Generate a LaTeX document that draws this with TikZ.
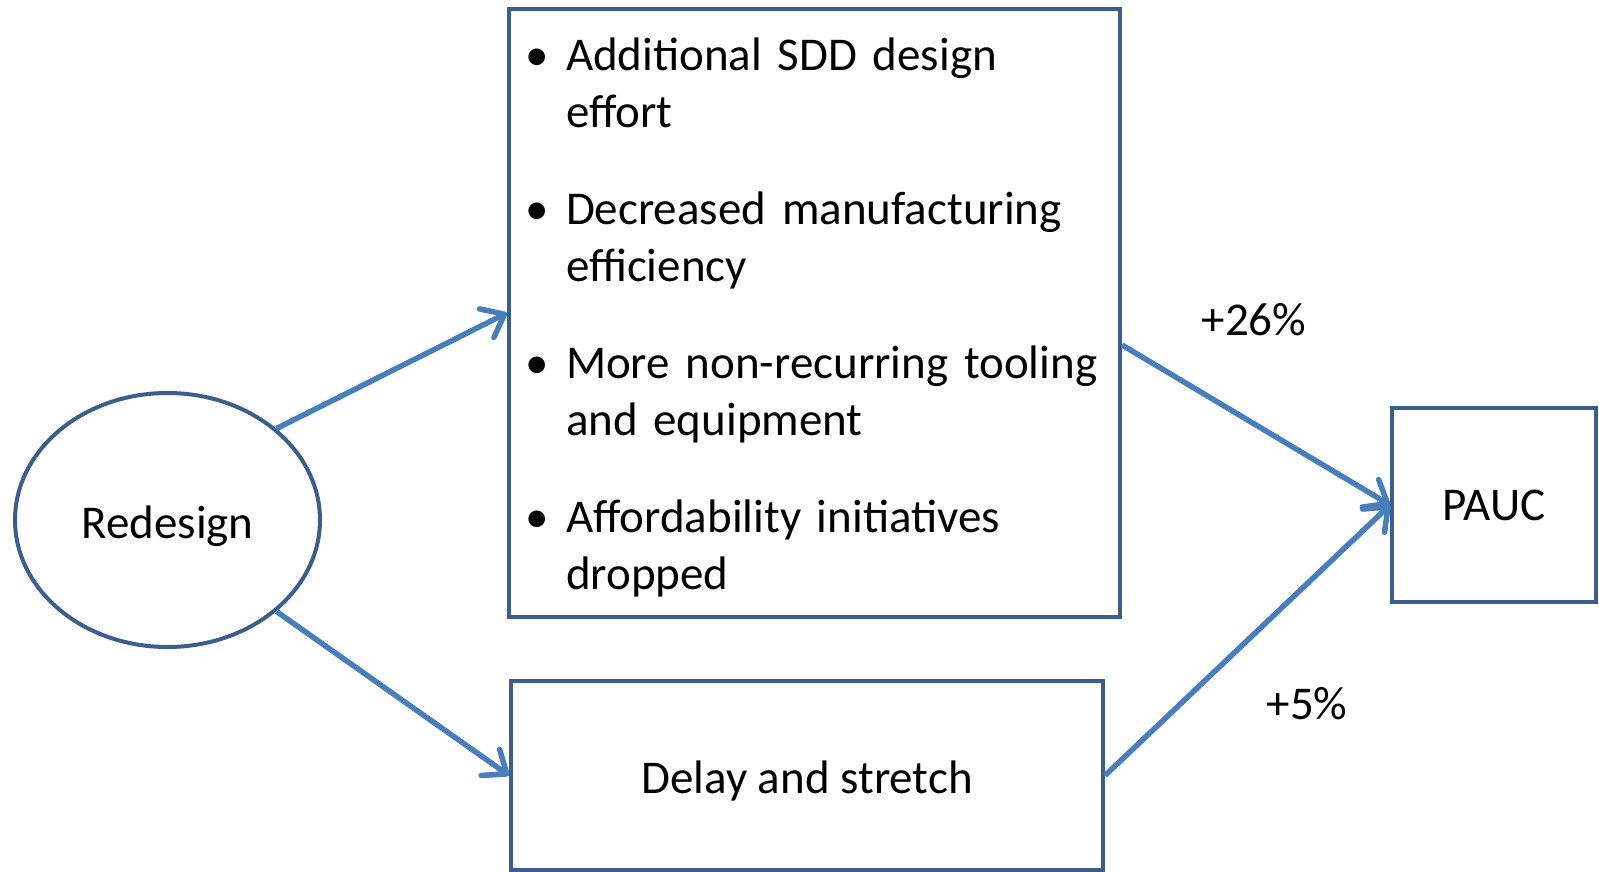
\documentclass[tikz,border=0pt]{standalone}
\usepackage{fontspec}
\setmainfont{Carlito}
\usepackage{enumitem}
\usetikzlibrary{shapes.geometric,arrows.meta}
\definecolor{boxblue}{HTML}{3B5E8C}
\definecolor{linkblue}{HTML}{4A7EBB}

\begin{document}
\begin{tikzpicture}[x=1pt,y=-1pt,
    every node/.style={font=\fontsize{47}{57}\selectfont},
    box/.style={draw=boxblue,line width=4pt,inner sep=0pt},
    link/.style={draw=linkblue,line width=5.5pt,-{Straight Barb[length=20pt,width=32pt,round]}}]
  \useasboundingbox (0,0) rectangle (1599,872);
  \node[box,ellipse,minimum width=305pt,minimum height=254pt,text height=45pt,text depth=9pt] (redesign) at (167.5,520) {Redesign};
  \node[box,minimum width=611pt,minimum height=608pt,text width=607pt,align=left] (causes) at (814.5,313)
    {\begin{itemize}[leftmargin=55pt,labelsep=17pt,itemsep=40pt,topsep=0pt,parsep=0pt,partopsep=0pt]
       \item Additional SDD design\newline effort
       \item Decreased manufacturing\newline efficiency
       \item More non-recurring tooling\newline and equipment
       \item Affordability initiatives\newline dropped
     \end{itemize}\par\kern16pt};
  \node[box,minimum width=592pt,minimum height=189pt,text height=45pt,text depth=9pt] (delay) at (807,775.5) {Delay and stretch};
  \node[box,minimum width=204pt,minimum height=194pt] (pauc) at (1494,505) {PAUC};
  % percentages
  \node[anchor=base] (up26) at (1254,335) {+26\%};
  \node[anchor=base] (up5) at (1307,719) {+5\%};
  \draw[link] (redesign.40) -- (causes.west);
  \draw[link] (redesign.-40) -- (delay.west);
  \draw[link] ([yshift=-32pt]causes.east) -- (pauc.west);
  \draw[link] (delay.east) -- (pauc.west);
\end{tikzpicture}
\end{document}
